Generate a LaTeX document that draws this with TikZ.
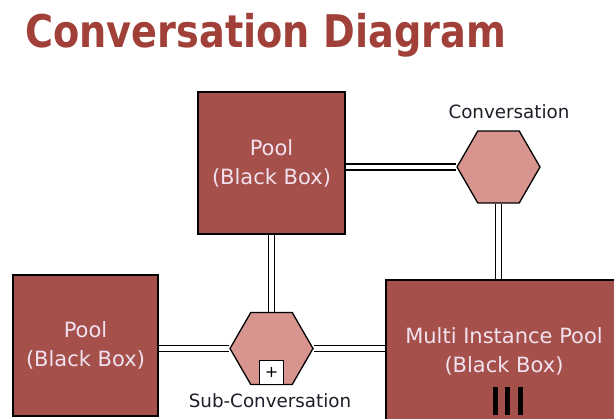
\documentclass[tikz,border=0pt]{standalone}
\usepackage{fontspec}
\setmainfont{DejaVu Sans}
\newfontfamily\titlefont[FakeStretch=0.85]{DejaVu Sans}
\usetikzlibrary{shapes.geometric,positioning,backgrounds}
\definecolor{poolred}{RGB}{165,80,74}
\definecolor{convpink}{RGB}{216,148,142}
\definecolor{titlered}{RGB}{160,64,56}
\definecolor{pooltxt}{RGB}{242,226,240}
\definecolor{lbltxt}{RGB}{30,30,40}
\begin{document}
\begin{tikzpicture}[x=1pt,y=-1pt,
    pool/.style={draw=black,line width=1.3pt,fill=poolred,text=pooltxt,
      align=center,inner sep=0pt,font=\fontsize{21}{29}\selectfont},
    conv/.style={draw=black,line width=1.3pt,fill=convpink,regular polygon,
      regular polygon sides=6,minimum size=83pt,inner sep=0pt},
    link/.style={draw=black,line width=1.3pt,double=white,double distance=4.5pt},
    lbl/.style={text=lbltxt,inner sep=0pt,font=\fontsize{18.3}{22}\selectfont}]
    \useasboundingbox (0,0) rectangle (614,419);
    \clip (0,0) rectangle (614,419);
    \node[anchor=base west,inner sep=0pt,text=titlered,
      font=\titlefont\bfseries\fontsize{45}{50}\selectfont] (title) at (25,48) {Conversation Diagram};
    \node[pool,minimum width=147pt,minimum height=142pt] (toppool) at (271.5,163) {Pool\\(Black Box)};
    \node[pool,minimum width=145pt,minimum height=141pt] (leftpool) at (85.5,345.5) {Pool\\(Black Box)};
    \node[pool,minimum width=236pt,minimum height=142pt] (mipool) at (504,351) {Multi Instance Pool\\(Black Box)};
    \node[conv] (conv) at (498.5,167) {};
    \node[conv] (sub) at (271.5,348.5) {};
    \node[draw=black,line width=0.8pt,fill=white,minimum size=24pt,inner sep=0pt,
      anchor=south,font=\fontsize{16}{16}\selectfont] (plus) at (sub.south) {+};
    \node[lbl] (convlbl) at (509,112) {Conversation};
    \node[lbl] (sublbl) at (270,401) {Sub-Conversation};
    \foreach \x in {495,507.5,520} {
      \fill[black] (\x-2.5,387) rectangle (\x+2.5,415);
    }
    \begin{scope}[on background layer]
      \draw[link] (toppool.east |- conv.west) -- (conv.west);
      \draw[link] (conv.south) -- (conv.south |- mipool.north);
      \draw[link] (toppool.south) -- (sub.north);
      \draw[link] (leftpool.east |- sub.west) -- (sub.west);
      \draw[link] (sub.east) -- (sub.east -| mipool.west);
    \end{scope}
\end{tikzpicture}
\end{document}
